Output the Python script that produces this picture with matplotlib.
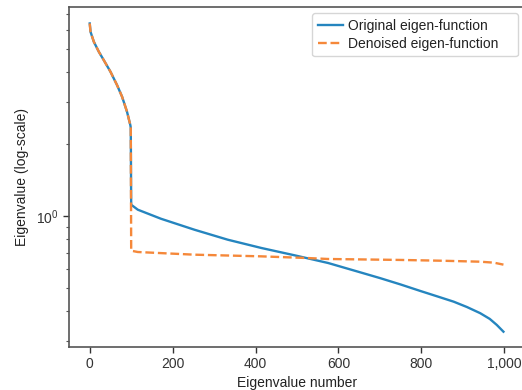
import numpy as np
import matplotlib.pyplot as plt
from matplotlib.ticker import FuncFormatter, NullFormatter

plt.rcParams['font.family'] = ['Liberation Sans', 'DejaVu Sans']

# leading eigenvalues (identical for both spectra)
idx_head = [0, 2, 10, 22, 34, 50, 66, 78, 90, 98, 99]
val_head = [6.40, 5.90, 5.36, 4.87, 4.49, 4.02, 3.53, 3.16, 2.73, 2.40, 2.34]

# original spectrum after index 100
idx_orig_tail = [100, 116, 172, 253, 333, 414, 494, 575, 650, 700, 750,
                 797, 840, 878, 910, 942, 965, 982, 998]
val_orig_tail = [1.115, 1.063, 0.974, 0.876, 0.796, 0.735, 0.685, 0.636, 0.583, 0.550, 0.517,
                 0.486, 0.460, 0.438, 0.416, 0.392, 0.371, 0.350, 0.328]

# denoised spectrum after index 100
idx_den_tail = [100, 116, 253, 414, 527, 575, 749, 850, 942, 975, 998]
val_den_tail = [0.716, 0.707, 0.689, 0.678, 0.667, 0.661, 0.655, 0.650, 0.644, 0.638, 0.626]

orig_x = idx_head + idx_orig_tail
orig_y = val_head + val_orig_tail
den_x = idx_head + idx_den_tail
den_y = val_head + val_den_tail

fig = plt.figure(figsize=(5.22, 3.90), dpi=100)
ax = fig.add_axes([69 / 522, 43 / 390, 456 / 522, 340 / 390])

ax.plot(orig_x, orig_y, '-', color='#2585bf', lw=1.7, label='Original eigen-function')
ax.plot(den_x, den_y, '--', color='#f5883a', lw=1.7, label='Denoised eigen-function')

ax.set_yscale('log')
ax.set_xlim(-50, 1050)
ax.set_ylim(0.283, 7.5)
ax.set_xticks([0, 200, 400, 600, 800, 1000])
ax.xaxis.set_major_formatter(FuncFormatter(lambda v, p: f'{int(v):,}'))
ax.yaxis.set_minor_formatter(NullFormatter())

for s in ax.spines.values():
    s.set_color('#555555')
    s.set_linewidth(1.2)
ax.tick_params(colors='#333333', labelsize=10, width=1.0, length=4)
ax.tick_params(which='minor', length=2.5, width=0.8, color='#555555')

ax.set_xlabel('Eigenvalue number', fontsize=10, color='#222222', labelpad=3)
ax.set_ylabel('Eigenvalue (log-scale)', fontsize=10, color='#222222', labelpad=5)

leg = ax.legend(loc='upper left', bbox_to_anchor=(0.533, 0.85, 0.452, 0.132),
                mode='expand', fontsize=10, frameon=True, borderaxespad=0,
                handlelength=1.8, handletextpad=0.4, labelspacing=0.3, borderpad=0.4)
leg.get_frame().set_edgecolor('#cccccc')
for t in leg.get_texts():
    t.set_color('#222222')

fig.savefig('out.png', dpi=100)
